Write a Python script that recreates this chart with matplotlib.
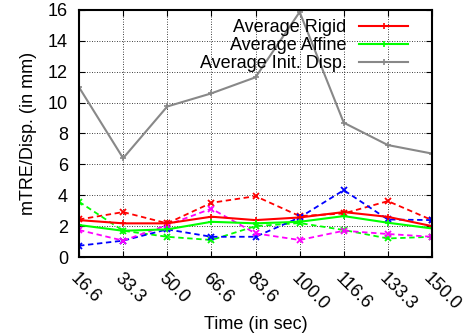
import matplotlib
matplotlib.use("Agg")
import matplotlib.pyplot as plt

plt.rcParams['font.family'] = ['Liberation Sans', 'DejaVu Sans']

times = ["16.6", "33.3", "50.0", "66.6", "83.6", "100.0", "116.6", "133.3", "150.0"]
avg_rigid = [2.39, 2.18, 2.18, 2.61, 2.39, 2.56, 2.91, 2.60, 2.00]
avg_affine = [2.07, 1.70, 1.79, 2.28, 2.18, 2.28, 2.65, 2.22, 1.85]
avg_init = [11.0, 6.4, 9.75, 10.6, 11.64, 15.87, 8.7, 7.25, 6.7]
red_dash = [2.43, 2.91, 2.18, 3.51, 3.94, 2.65, 2.82, 3.62, 2.39]
green_dash = [3.58, 1.70, 1.31, 1.10, 2.00, 2.20, 1.75, 1.20, 1.31]
blue_dash = [0.73, 1.06, 1.79, 1.31, 1.31, 2.56, 4.33, 2.43, 2.39]
magenta_dash = [1.75, 1.06, 2.07, 3.13, 1.53, 1.10, 1.70, 1.49, 1.31]
yticks = [0, 2, 4, 6, 8, 10, 12, 14, 16]

fs = 13

fig = plt.figure(figsize=(4.66, 3.36), dpi=100)
ax = fig.add_axes([79/466, 1-257/336, (432-79)/466, (257-10)/336])

x = list(range(len(times)))
dash = (0, (3, 2))
ax.plot(x, red_dash, color='#ff0000', lw=1.3, ls=dash, marker='x', ms=5, mew=1.3)
ax.plot(x, green_dash, color='#00ff00', lw=1.3, ls=dash, marker='x', ms=5, mew=1.3)
ax.plot(x, blue_dash, color='#0000ff', lw=1.3, ls=dash, marker='x', ms=5, mew=1.3)
ax.plot(x, magenta_dash, color='#ff00ff', lw=1.3, ls=dash, marker='x', ms=5, mew=1.3)
l1, = ax.plot(x, avg_rigid, color='#ff0000', lw=1.5, marker='+', ms=5, mew=1.2, label='Average Rigid')
l2, = ax.plot(x, avg_affine, color='#00ff00', lw=1.5, marker='+', ms=5, mew=1.2, label='Average Affine')
l3, = ax.plot(x, avg_init, color='#888888', lw=1.5, marker='+', ms=5, mew=1.2, label='Average Init. Disp.')

ax.set_xlim(0, len(times)-1)
ax.set_ylim(0, 16)
ax.set_yticks(yticks)
ax.set_xticks(x)
ax.set_xticklabels(times, rotation=-45, ha='left', va='top', rotation_mode='anchor')
ax.tick_params(direction='in', length=4, width=0.8, top=True, right=True, labelsize=fs, pad=8)
ax.tick_params(axis='x', pad=9)
ax.grid(True, color='black', ls=(0, (1, 2)), lw=0.6)
for s in ax.spines.values():
    s.set_linewidth(1.5)

ax.set_xlabel('Time (in sec)', fontsize=fs, labelpad=2)
ax.set_ylabel('mTRE/Disp. (in mm)', fontsize=fs, labelpad=8)

leg = ax.legend(handles=[l1, l2, l3], loc='upper right', bbox_to_anchor=(0.932, 0.963),
                frameon=False, markerfirst=False, fontsize=fs, handlelength=2.7,
                handletextpad=0.7, labelspacing=0.05, borderpad=0, borderaxespad=0)

fig.savefig('out.png', dpi=100)
